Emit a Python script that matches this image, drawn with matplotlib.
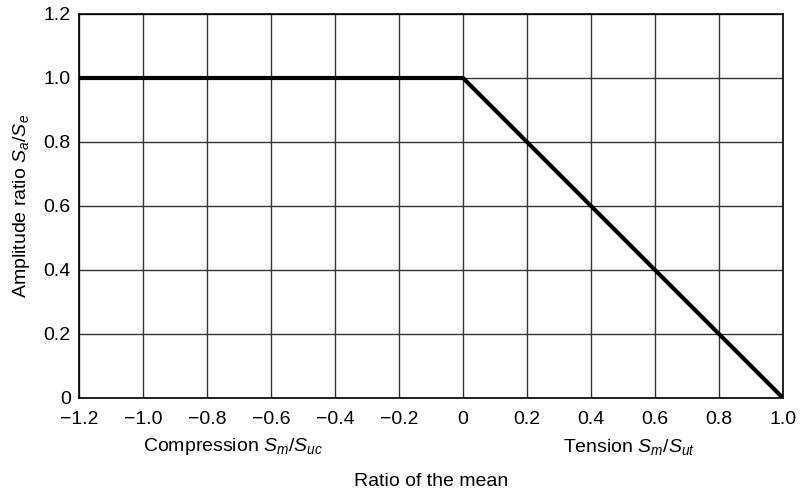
import matplotlib
matplotlib.use("Agg")
import matplotlib.pyplot as plt

plt.rcParams["font.family"] = ["Liberation Sans", "DejaVu Sans"]
plt.rcParams["mathtext.fontset"] = "custom"
plt.rcParams["mathtext.rm"] = "Liberation Sans"
plt.rcParams["mathtext.it"] = "Liberation Sans:italic"

# Goodman-type envelope: amplitude ratio vs ratio of the mean
mean_ratio = [-1.2, 0.0, 1.0]
amp_ratio = [1.0, 1.0, 0.0]

x_ticks = [-1.2, -1.0, -0.8, -0.6, -0.4, -0.2, 0.0, 0.2, 0.4, 0.6, 0.8, 1.0]
x_labels = ["\u22121.2", "\u22121.0", "\u22120.8", "\u22120.6", "\u22120.4", "\u22120.2",
            "0", "0.2", "0.4", "0.6", "0.8", "1.0"]
y_ticks = [0.0, 0.2, 0.4, 0.6, 0.8, 1.0, 1.2]
y_labels = ["0", "0.2", "0.4", "0.6", "0.8", "1.0", "1.2"]

fs = 14

fig = plt.figure(figsize=(8.02, 4.99), dpi=100)
ax = fig.add_axes([79 / 802, 1 - 398 / 499, 704 / 802, 384 / 499])

ax.plot(mean_ratio, amp_ratio, color="black", linewidth=3, solid_capstyle="butt", zorder=3)

ax.set_xlim(-1.2, 1.0)
ax.set_ylim(0, 1.2)
ax.set_xticks(x_ticks)
ax.set_xticklabels(x_labels)
ax.set_yticks(y_ticks)
ax.set_yticklabels(y_labels)
ax.tick_params(length=0, labelsize=fs)
ax.tick_params(axis="x", pad=9)
ax.tick_params(axis="y", pad=6)
ax.grid(True, color="#333333", linewidth=1)
for s in ax.spines.values():
    s.set_linewidth(1.2)

ax.set_ylabel(r"Amplitude ratio $S_a/S_e$", fontsize=fs, labelpad=8)
fig.text(431 / 802, 1 - 482 / 499, "Ratio of the mean", fontsize=fs,
         ha="center", va="center")
ax.text(-0.72, -0.153, r"Compression $S_m/S_{uc}$", fontsize=fs,
        ha="center", va="center", transform=ax.transData, clip_on=False)
ax.text(0.52, -0.153, r"Tension $S_m/S_{ut}$", fontsize=fs,
        ha="center", va="center", transform=ax.transData, clip_on=False)

fig.savefig("out.png", dpi=100)
